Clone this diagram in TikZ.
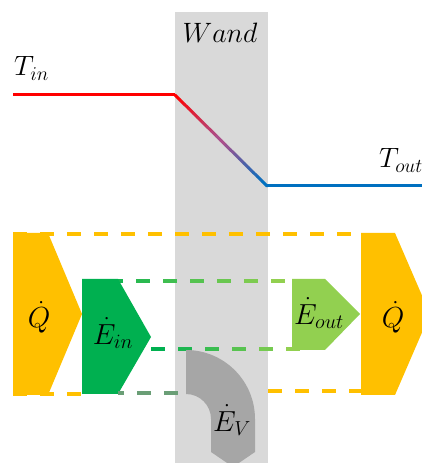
\RequirePackage{fix-cm}
\documentclass[tikz,border=0pt]{standalone}
\usetikzlibrary{calc}
\definecolor{wallgray}{RGB}{217,217,217}
\definecolor{heatyellow}{RGB}{255,192,0}
\definecolor{eingreen}{RGB}{0,176,80}
\definecolor{eoutgreen}{RGB}{146,208,80}
\definecolor{lossgray}{RGB}{166,166,166}
\definecolor{edgegreen}{RGB}{106,158,118}
\definecolor{hotred}{RGB}{255,0,0}
\definecolor{midviolet}{RGB}{170,80,140}
\definecolor{coldblue}{RGB}{0,112,192}

\begin{document}
\begin{tikzpicture}[
  x=1pt, y=1pt,
  bigmath/.style={font=\fontsize{28}{31}\selectfont, inner sep=0pt},
  flowlabel/.style={font=\fontsize{29}{32}\selectfont, inner sep=0pt},
  templine/.style={line width=3pt},
  dashln/.style={line width=4pt, dash pattern=on 14pt off 13pt}
]
\useasboundingbox (0,0) rectangle (422,463);

% Wall
\fill[wallgray] (175,0) rectangle (268,451);
\node[bigmath] (wand) at (220,430) {$Wand$};

% Temperature profile
\coordinate (tA) at (13,368);
\coordinate (tB) at (175,368);
\coordinate (tM) at (221,322.5);
\coordinate (tC) at (267,277);
\coordinate (tD) at (422,277);
\draw[templine, hotred] (tA) -- (tB);
\foreach \i in {0,...,9} {
  \pgfmathtruncatemacro\mix{100-\i*100/9}
  \draw[templine, line cap=round, hotred!\mix!midviolet]
    ($(tB)!{\i/10}!(tM)$) -- ($(tB)!{(\i+1)/10}!(tM)$);
  \draw[templine, line cap=round, midviolet!\mix!coldblue]
    ($(tM)!{\i/10}!(tC)$) -- ($(tM)!{(\i+1)/10}!(tC)$);
}
\draw[templine, coldblue] (tC) -- (tD);
\node[bigmath, anchor=base west] (tin) at (14,387) {$T_{in}$};
\node[bigmath, anchor=base west] (tout) at (379,295) {$T_{out}$};

% Balance boundaries
\coordinate (qtop) at (13,229);
\coordinate (qbot) at (13,69);
\coordinate (qrtop) at (361,229);
\coordinate (qrbot) at (361,72);
\coordinate (wbot) at (268,72);
\coordinate (eintop) at (82,182);
\coordinate (eintip) at (151,114);
\draw[dashln, heatyellow] (qtop) -- (qrtop);
\draw[dashln, heatyellow] (qbot) -- (82,69);
\draw[dashln, heatyellow] (wbot) -- (qrbot);
\foreach \k in {0,...,7} {
  \pgfmathtruncatemacro\mix{100-\k*100/7}
  \draw[line width=4pt, eingreen!\mix!eoutgreen] ($(eintop)+(\k*27,0)$) -- ++(14,0);
}
\foreach \k in {0,...,5} {
  \pgfmathtruncatemacro\mix{100-\k*100/5}
  \draw[line width=4pt, eingreen!\mix!eoutgreen] ($(eintip)+(\k*27,0)$) -- ++(14,0);
}

% Heat flow in and out
\fill[heatyellow] (13,230) -- (48,230) -- (82,149) -- (48,68) -- (13,68) -- cycle;
\node[flowlabel] (qin) at (39,146) {$\dot{Q}$};
\fill[heatyellow] (361,230) -- (395,230) -- (430,149) -- (395,68) -- (361,68) -- cycle;
\node[flowlabel] (qout) at (393,146) {$\dot{Q}$};

% Energy flows
\fill[eingreen] (82,184) -- (118,184) -- (151,126) -- (118,69) -- (82,69) -- cycle;
\node[flowlabel] (ein) at (113,130) {$\dot{E}_{in}$};
\fill[eoutgreen] (292,184) -- (325,184) -- (360,149) -- (325,113) -- (292,113) -- cycle;
\node[flowlabel] (eout) at (319,150) {$\dot{E}_{out}$};
\draw[dashln, edgegreen, dash phase=8pt] (118,70) -- (186,70);

% Loss through the wall
\fill[lossgray] (186,113) arc[start angle=90, end angle=0, radius=69]
  -- (255,11) -- (233,-4) -- (211,11) -- (211,44)
  arc[start angle=0, end angle=90, radius=25] -- cycle;
\node[flowlabel] (ev) at (232,43) {$\dot{E}_{V}$};

\end{tikzpicture}
\end{document}
